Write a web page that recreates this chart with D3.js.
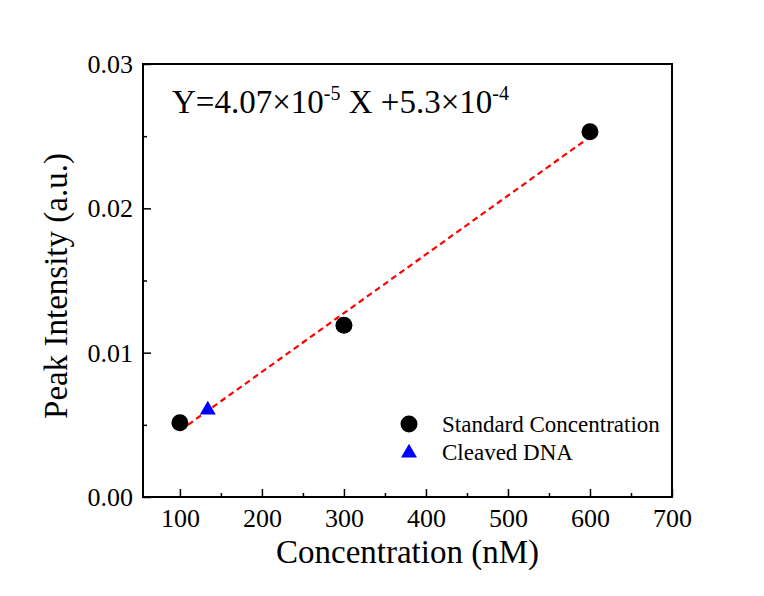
<!DOCTYPE html>
<html>
<head>
<meta charset="utf-8">
<script src="https://cdn.jsdelivr.net/npm/d3@7"></script>
<style>
  html, body { margin: 0; padding: 0; background: #fff; }
  svg { display: block; font-family: "Liberation Serif", "Times New Roman", serif; }
</style>
</head>
<body>
<svg id="chart" width="764" height="596"></svg>
<script>
// Calibration standards and the measured sample
const stdConc = [100, 300, 600];
const stdIntensity = [0.00515, 0.0119, 0.0253];
const cleavedConc = [134];
const cleavedIntensity = [0.00603];

// Linear fit: Y = slope * X + intercept
const slope = 4.07e-5;
const intercept = 5.3e-4;
const fitRange = [100, 600];

const xTicks = [100, 200, 300, 400, 500, 600, 700];
const xMinor = [150, 250, 350, 450, 550, 650];
const yTicks = [0, 0.01, 0.02, 0.03];
const yMinor = [0.005, 0.015, 0.025];

const legendLabels = ["Standard Concentration", "Cleaved DNA"];

const svg = d3.select("#chart");
const plotL = 143, plotR = 672, plotT = 64, plotB = 497;

const x = d3.scaleLinear().domain([55, 700]).range([plotL, plotR]);
const y = d3.scaleLinear().domain([0, 0.03]).range([plotB, plotT]);

// Bottom axis: major ticks with labels, inward tick marks
const xAxis = d3.axisBottom(x).tickValues(xTicks).tickSize(-8).tickPadding(0)
  .tickFormat(d3.format("d"));
const gx = svg.append("g").attr("transform", `translate(0,${plotB})`).call(xAxis);
gx.select(".domain").remove();
gx.selectAll(".tick line").attr("stroke", "#000").attr("stroke-width", 1.5);
gx.selectAll(".tick text").attr("y", 30).attr("dy", null)
  .attr("font-size", 26).attr("font-family", "Liberation Serif").attr("fill", "#000");
const gxm = svg.append("g").attr("transform", `translate(0,${plotB})`)
  .call(d3.axisBottom(x).tickValues(xMinor).tickSize(-4).tickFormat(""));
gxm.select(".domain").remove();
gxm.selectAll(".tick line").attr("stroke", "#000").attr("stroke-width", 1.5);

// Left axis
const yAxis = d3.axisLeft(y).tickValues(yTicks).tickSize(-8).tickPadding(0)
  .tickFormat(d3.format(".2f"));
const gy = svg.append("g").attr("transform", `translate(${plotL},0)`).call(yAxis);
gy.select(".domain").remove();
gy.selectAll(".tick line").attr("stroke", "#000").attr("stroke-width", 1.5);
gy.selectAll(".tick text").attr("x", -10).attr("dy", "0.33em")
  .attr("font-size", 26).attr("font-family", "Liberation Serif").attr("fill", "#000");
const gym = svg.append("g").attr("transform", `translate(${plotL},0)`)
  .call(d3.axisLeft(y).tickValues(yMinor).tickSize(-4).tickFormat(""));
gym.select(".domain").remove();
gym.selectAll(".tick line").attr("stroke", "#000").attr("stroke-width", 1.5);

// Plot frame
svg.append("rect")
  .attr("x", plotL).attr("y", plotT)
  .attr("width", plotR - plotL).attr("height", plotB - plotT)
  .attr("fill", "none").attr("stroke", "#000").attr("stroke-width", 2);

// Fitted line
const fit = fitRange.map(v => [v, slope * v + intercept]);
svg.append("path")
  .datum(fit)
  .attr("d", d3.line().x(d => x(d[0])).y(d => y(d[1])))
  .attr("fill", "none").attr("stroke", "#ff0000").attr("stroke-width", 2.2)
  .attr("stroke-dasharray", "6,4");

// Standard points
const symCircle = d3.symbol().type(d3.symbolCircle).size(Math.PI * 8.5 * 8.5);
const symTri = d3.symbol().type(d3.symbolTriangle).size(110);
svg.append("g").selectAll("path")
  .data(d3.zip(stdConc, stdIntensity))
  .join("path")
  .attr("d", symCircle)
  .attr("transform", d => `translate(${x(d[0])},${y(d[1])})`)
  .attr("fill", "#000");

// Sample point
svg.append("g").selectAll("path")
  .data(d3.zip(cleavedConc, cleavedIntensity))
  .join("path")
  .attr("d", symTri)
  .attr("transform", d => `translate(${x(d[0])},${y(d[1])})`)
  .attr("fill", "#0000ff");

// Equation annotation
const eq = svg.append("text")
  .attr("x", 172).attr("y", 113)
  .attr("font-size", 33).attr("fill", "#000");
eq.append("tspan").text("Y=4.07\u00d710");
eq.append("tspan").attr("font-size", 20).attr("dy", -13).text("-5");
eq.append("tspan").attr("dy", 13).text(" X +5.3\u00d710");
eq.append("tspan").attr("font-size", 20).attr("dy", -13).text("-4");

// Legend
const legend = svg.append("g");
legend.append("path").attr("d", symCircle)
  .attr("transform", "translate(409,424)").attr("fill", "#000");
legend.append("path").attr("d", symTri)
  .attr("transform", "translate(409,453)").attr("fill", "#0000ff");
legend.selectAll("text")
  .data(legendLabels)
  .join("text")
  .attr("x", 442).attr("y", (d, i) => 432 + i * 28)
  .attr("font-size", 23).attr("fill", "#000")
  .text(d => d);

// Axis titles
svg.append("text")
  .attr("x", (plotL + plotR) / 2).attr("y", 563)
  .attr("text-anchor", "middle").attr("font-size", 33).attr("fill", "#000")
  .text("Concentration (nM)");
svg.append("text")
  .attr("transform", "translate(67,286) rotate(-90)")
  .attr("text-anchor", "middle").attr("font-size", 33).attr("fill", "#000")
  .text("Peak Intensity (a.u.)");
</script>
</body>
</html>
